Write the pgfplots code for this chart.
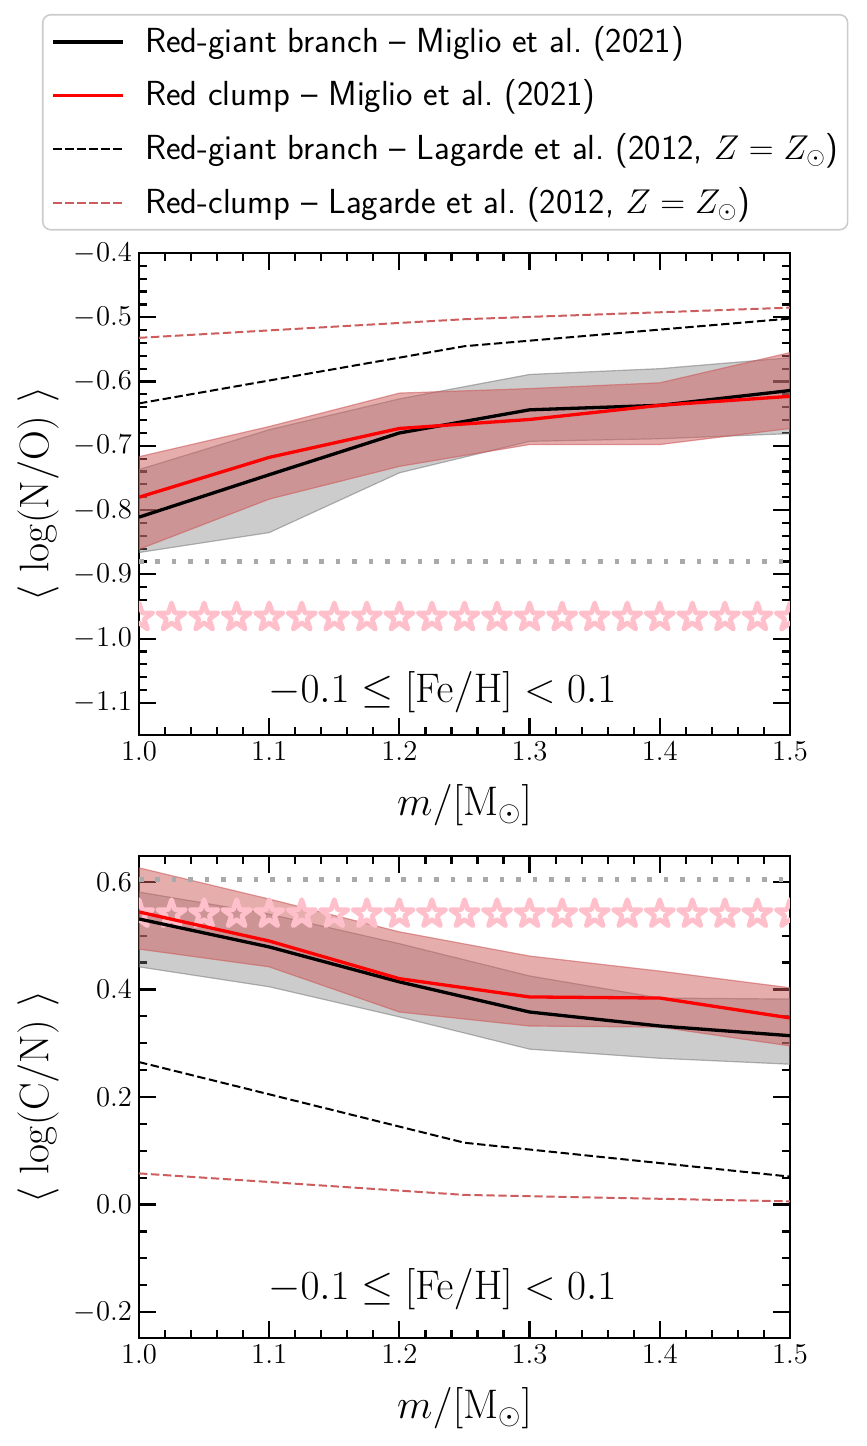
\documentclass[border=0pt]{standalone}
\usepackage{pgfplots}
\pgfplotsset{compat=1.18}
\definecolor{indianred}{RGB}{205,92,92}
\definecolor{mplpink}{RGB}{255,192,203}
\definecolor{dgray}{RGB}{169,169,169}
\pgfdeclareplotmark{ostar}{%
 \pgfpathmoveto{\pgfpointpolar{90}{\pgfplotmarksize}}%
 \pgfpathlineto{\pgfpointpolar{126}{0.382\pgfplotmarksize}}%
 \pgfpathlineto{\pgfpointpolar{162}{\pgfplotmarksize}}%
 \pgfpathlineto{\pgfpointpolar{198}{0.382\pgfplotmarksize}}%
 \pgfpathlineto{\pgfpointpolar{234}{\pgfplotmarksize}}%
 \pgfpathlineto{\pgfpointpolar{270}{0.382\pgfplotmarksize}}%
 \pgfpathlineto{\pgfpointpolar{306}{\pgfplotmarksize}}%
 \pgfpathlineto{\pgfpointpolar{342}{0.382\pgfplotmarksize}}%
 \pgfpathlineto{\pgfpointpolar{18}{\pgfplotmarksize}}%
 \pgfpathlineto{\pgfpointpolar{54}{0.382\pgfplotmarksize}}%
 \pgfpathclose
 \pgfusepathqstroke
}
\pgfplotsset{
 panel/.style={
  scale only axis, width=325.5bp, height=241bp,
  xmin=1, xmax=1.5, xtick={1.0,1.1,1.2,1.3,1.4,1.5}, minor x tick num=4,
  tick align=inside, xtick pos=both, ytick pos=both,
  major tick length=8.5bp, minor tick length=4.2bp,
  tick style={black, line width=1.1bp},
  axis line style={line width=1bp},
  ticklabel style={font=\fontsize{13.3bp}{16bp}\selectfont},
  xticklabel style={/pgf/number format/fixed},
  xticklabel style={/pgf/number format/fixed zerofill},
  xticklabel style={/pgf/number format/precision=1},
  yticklabel style={/pgf/number format/fixed},
  yticklabel style={/pgf/number format/fixed zerofill},
  yticklabel style={/pgf/number format/precision=1},
  every axis x label/.style={at={(axis description cs:0.5,-0.145)}, anchor=center, font=\fontsize{22.5bp}{27bp}\selectfont},
  every axis y label/.style={at={(axis description cs:-0.155,0.5)}, rotate=90, anchor=center, font=\fontsize{22.5bp}{27bp}\selectfont},
  xlabel={$m/[\mathrm{M}_\odot]$},
  clip marker paths=true,
 },
 grayband/.style={fill=gray, fill opacity=0.4, draw=gray, draw opacity=0.6, line width=0.6bp, forget plot},
 redband/.style={fill=indianred, fill opacity=0.5, draw=indianred, draw opacity=0.6, line width=0.6bp, forget plot},
 dotline/.style={dgray, line width=2.3bp, dash pattern=on 2.3bp off 5.9bp, forget plot},
 stars/.style={only marks, mark=ostar, mark size=7.2bp, mplpink, mark options={line width=2.4bp, line join=round, fill=none}, forget plot},
 rgbline/.style={black, line width=1.65bp},
 rcline/.style={red, line width=1.65bp},
 rgbdash/.style={black, line width=1bp, dash pattern=on 4.2bp off 1.8bp},
 rcdash/.style={indianred, line width=1bp, dash pattern=on 4.2bp off 1.8bp},
}
\begin{document}
\begin{tikzpicture}
\begin{axis}[panel, at={(0,0)}, anchor=south west,
  ymin=-1.15, ymax=-0.4, ytick={-1.1,-1.0,-0.9,-0.8,-0.7,-0.6,-0.5,-0.4}, minor y tick num=4,
  ylabel={$\langle\ \log(\mathrm{N/O})\ \rangle$},
  legend style={at={(-0.149,1.496)}, anchor=north west, draw=black!20, line width=0.8bp,
    rounded corners=4bp, font=\sffamily\fontsize{17.4bp}{20bp}\selectfont,
    inner xsep=4.5bp, inner ysep=5.55bp, row sep=10.8bp, column sep=10bp,
    nodes={inner sep=0pt, text height=13.25bp, text depth=2.75bp}},
  legend cell align=left,
  legend image code/.code={\draw[sharp corners,#1] (0bp,0bp) -- (35bp,0bp);},
]
\addplot[grayband] coordinates {(1.0,-0.737) (1.1,-0.675) (1.2,-0.627) (1.3,-0.589) (1.4,-0.580) (1.5,-0.563)
  (1.5,-0.681) (1.4,-0.689) (1.3,-0.693) (1.2,-0.742) (1.1,-0.835) (1.0,-0.866)} -- cycle;
\addplot[redband] coordinates {(1.0,-0.717) (1.1,-0.670) (1.2,-0.618) (1.3,-0.611) (1.4,-0.602) (1.5,-0.555)
  (1.5,-0.673) (1.4,-0.698) (1.3,-0.698) (1.2,-0.732) (1.1,-0.783) (1.0,-0.861)} -- cycle;
\addplot[dotline] coordinates {(1.0,-0.88) (1.5,-0.88)};
\addplot[stars] coordinates {(1.000,-0.967) (1.025,-0.967) (1.050,-0.967) (1.075,-0.967) (1.100,-0.967) (1.125,-0.967) (1.150,-0.967) (1.175,-0.967) (1.200,-0.967) (1.225,-0.967) (1.250,-0.967) (1.275,-0.967) (1.300,-0.967) (1.325,-0.967) (1.350,-0.967) (1.375,-0.967) (1.400,-0.967) (1.425,-0.967) (1.450,-0.967) (1.475,-0.967) (1.500,-0.967)};
\addplot[rgbline] coordinates {(1.0,-0.811) (1.1,-0.745) (1.2,-0.680) (1.3,-0.644) (1.4,-0.637) (1.5,-0.614)};
\addlegendentry{Red-giant branch -- Miglio et al.\ (2021)}
\addplot[rcline] coordinates {(1.0,-0.780) (1.1,-0.718) (1.2,-0.673) (1.3,-0.659) (1.4,-0.637) (1.5,-0.623)};
\addlegendentry{Red clump -- Miglio et al.\ (2021)}
\addplot[rgbdash] coordinates {(1.0,-0.634) (1.25,-0.545) (1.5,-0.502)};
\addlegendentry{Red-giant branch -- Lagarde et al.\ (2012, $Z=Z_\odot$)}
\addplot[rcdash] coordinates {(1.0,-0.532) (1.25,-0.503) (1.5,-0.485)};
\addlegendentry{Red-clump -- Lagarde et al.\ (2012, $Z=Z_\odot$)}
\node[font=\fontsize{19.5bp}{23bp}\selectfont] at (axis cs:1.233,-1.083) {$-0.1 \leq [\mathrm{Fe/H}] < 0.1$};
\end{axis}
\begin{axis}[panel, at={(0,-301.5bp)}, anchor=south west,
  ymin=-0.248, ymax=0.648, ytick={-0.2,0.0,0.2,0.4,0.6}, minor y tick num=3,
  ylabel={$\langle\ \log(\mathrm{C/N})\ \rangle$},
]
\addplot[grayband] coordinates {(1.0,0.581) (1.1,0.540) (1.2,0.485) (1.3,0.425) (1.4,0.384) (1.5,0.382)
  (1.5,0.261) (1.4,0.272) (1.3,0.289) (1.2,0.349) (1.1,0.405) (1.0,0.442)} -- cycle;
\addplot[redband] coordinates {(1.0,0.626) (1.1,0.568) (1.2,0.507) (1.3,0.462) (1.4,0.434) (1.5,0.403)
  (1.5,0.295) (1.4,0.330) (1.3,0.332) (1.2,0.358) (1.1,0.442) (1.0,0.475)} -- cycle;
\addplot[dotline] coordinates {(1.0,0.604) (1.5,0.604)};
\addplot[stars] coordinates {(1.000,0.540) (1.025,0.540) (1.050,0.540) (1.075,0.540) (1.100,0.540) (1.125,0.540) (1.150,0.540) (1.175,0.540) (1.200,0.540) (1.225,0.540) (1.250,0.540) (1.275,0.540) (1.300,0.540) (1.325,0.540) (1.350,0.540) (1.375,0.540) (1.400,0.540) (1.425,0.540) (1.450,0.540) (1.475,0.540) (1.500,0.540)};
\addplot[rgbline] coordinates {(1.0,0.531) (1.1,0.479) (1.2,0.414) (1.3,0.358) (1.4,0.332) (1.5,0.314)};
\addplot[rcline] coordinates {(1.0,0.544) (1.1,0.490) (1.2,0.420) (1.3,0.386) (1.4,0.384) (1.5,0.347)};
\addplot[rgbdash] coordinates {(1.0,0.265) (1.25,0.115) (1.5,0.052)};
\addplot[rcdash] coordinates {(1.0,0.058) (1.25,0.018) (1.5,0.006)};
\node[font=\fontsize{19.5bp}{23bp}\selectfont] at (axis cs:1.233,-0.157) {$-0.1 \leq [\mathrm{Fe/H}] < 0.1$};
\end{axis}
\pgfresetboundingbox
\path[use as bounding box] (-69.5bp,367.5bp) rectangle (364bp,-355.5bp);
\end{tikzpicture}
\end{document}
